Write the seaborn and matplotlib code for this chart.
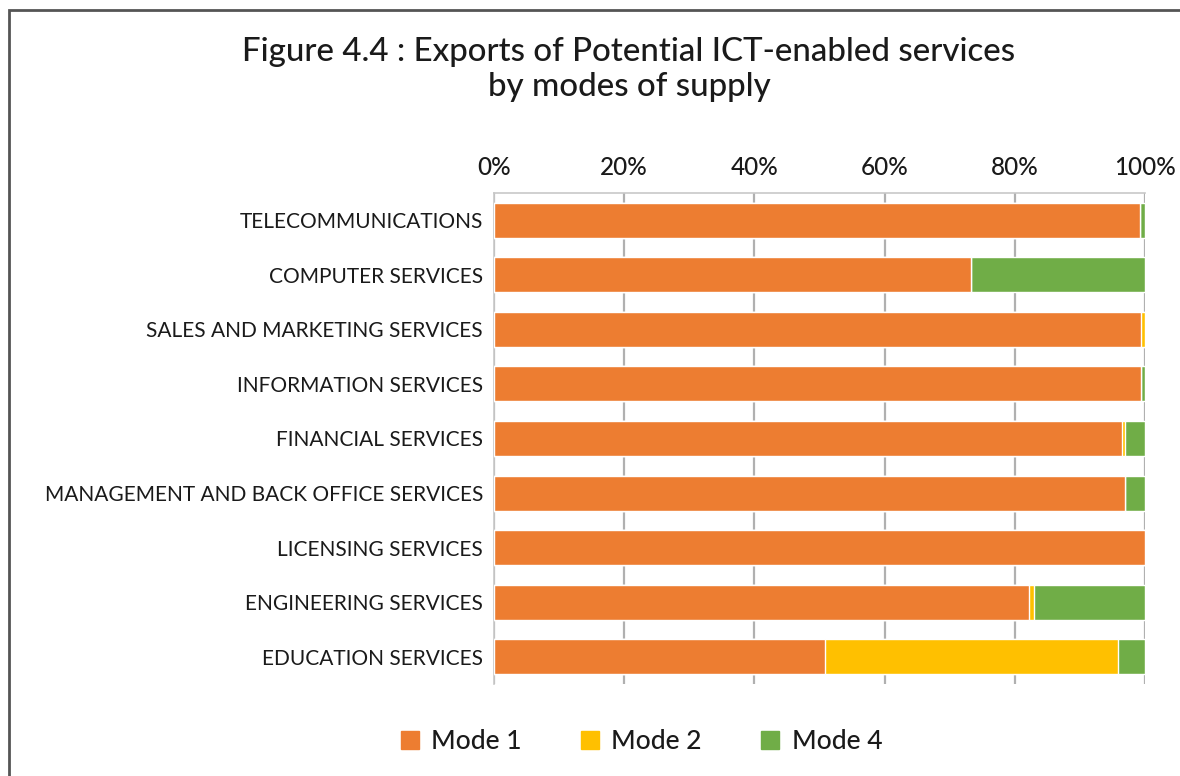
import matplotlib
matplotlib.use("Agg")
import matplotlib.pyplot as plt
import seaborn as sns
import pandas as pd
import numpy as np
from matplotlib.patches import Rectangle
from matplotlib.lines import Line2D

categories = [
    "TELECOMMUNICATIONS",
    "COMPUTER SERVICES",
    "SALES AND MARKETING SERVICES",
    "INFORMATION SERVICES",
    "FINANCIAL SERVICES",
    "MANAGEMENT AND BACK OFFICE SERVICES",
    "LICENSING SERVICES",
    "ENGINEERING SERVICES",
    "EDUCATION SERVICES",
]
mode1 = [99.2, 73.3, 99.4, 99.4, 96.4, 96.9, 100.0, 82.2, 50.8]
mode2 = [0.0, 0.0, 0.6, 0.0, 0.5, 0.0, 0.0, 0.8, 45.1]
mode4 = [0.8, 26.7, 0.0, 0.6, 3.1, 3.1, 0.0, 17.0, 4.1]
series_names = ["Mode 1", "Mode 2", "Mode 4"]
colors = ["#ED7D31", "#FFC000", "#70AD47"]
xticks = [0, 20, 40, 60, 80, 100]
xticklabels = ["0%", "20%", "40%", "60%", "80%", "100%"]
title = "Figure 4.4 : Exports of Potential ICT-enabled services\nby modes of supply"

sns.set_theme(style="white")
plt.rcParams["font.family"] = ["Lato", "DejaVu Sans"]

df = pd.DataFrame({"cat": categories, "m1": mode1, "m2": mode2, "m4": mode4})
df["c1"] = df["m1"]
df["c2"] = df["m1"] + df["m2"]
df["c4"] = df["m1"] + df["m2"] + df["m4"]

fig = plt.figure(figsize=(11.8, 7.76), dpi=100)
ax = fig.add_axes([494 / 1180, 1 - 684 / 776, 651 / 1180, 491 / 776])

for col, color in [("c4", colors[2]), ("c2", colors[1]), ("c1", colors[0])]:
    sns.barplot(data=df, x=col, y="cat", order=categories, color=color,
                width=0.64, saturation=1, ax=ax, orient="h", zorder=3)

ax.set_xlim(0, 100)
ax.set_ylim(8.5, -0.5)
ax.set_xticks(xticks)
ax.set_xticklabels(xticklabels, fontsize=17.5, color="#1a1a1a", fontweight="medium")
ax.xaxis.tick_top()
ax.tick_params(axis="x", length=0, pad=10)
ax.tick_params(axis="y", length=0, pad=8, labelsize=15, labelcolor="#1a1a1a")
ax.set_xlabel("")
ax.set_ylabel("")
ax.grid(axis="x", color="#B0B0B0", linewidth=1.6, zorder=0)
ax.set_axisbelow(True)
for s in ["right", "bottom"]:
    ax.spines[s].set_visible(False)
for s in ["top", "left"]:
    ax.spines[s].set_visible(True)
    ax.spines[s].set_color("#C8C8C8")
    ax.spines[s].set_linewidth(1.2)

fig.text(0.533, 0.91, title, ha="center", va="center", fontsize=23.8,
         color="#1a1a1a", linespacing=1.2, fontweight="medium")

handles = [Line2D([0], [0], marker="s", linestyle="", markersize=12.5,
                  markerfacecolor=c, markeredgecolor=c) for c in colors]
fig.legend(handles, series_names, loc="center", bbox_to_anchor=(0.543, 0.044),
           ncol=3, frameon=False, fontsize=19, columnspacing=2.2,
           handlelength=0.8, handletextpad=0.4, labelcolor="#1a1a1a",
           prop={"size": 19, "weight": "medium"})

fig.add_artist(Rectangle((9 / 1180, -0.05), 1.2, 1 - 10 / 776 + 0.05,
                         transform=fig.transFigure, fill=False,
                         edgecolor="#555555", linewidth=2))

fig.savefig("out.png", dpi=100)
